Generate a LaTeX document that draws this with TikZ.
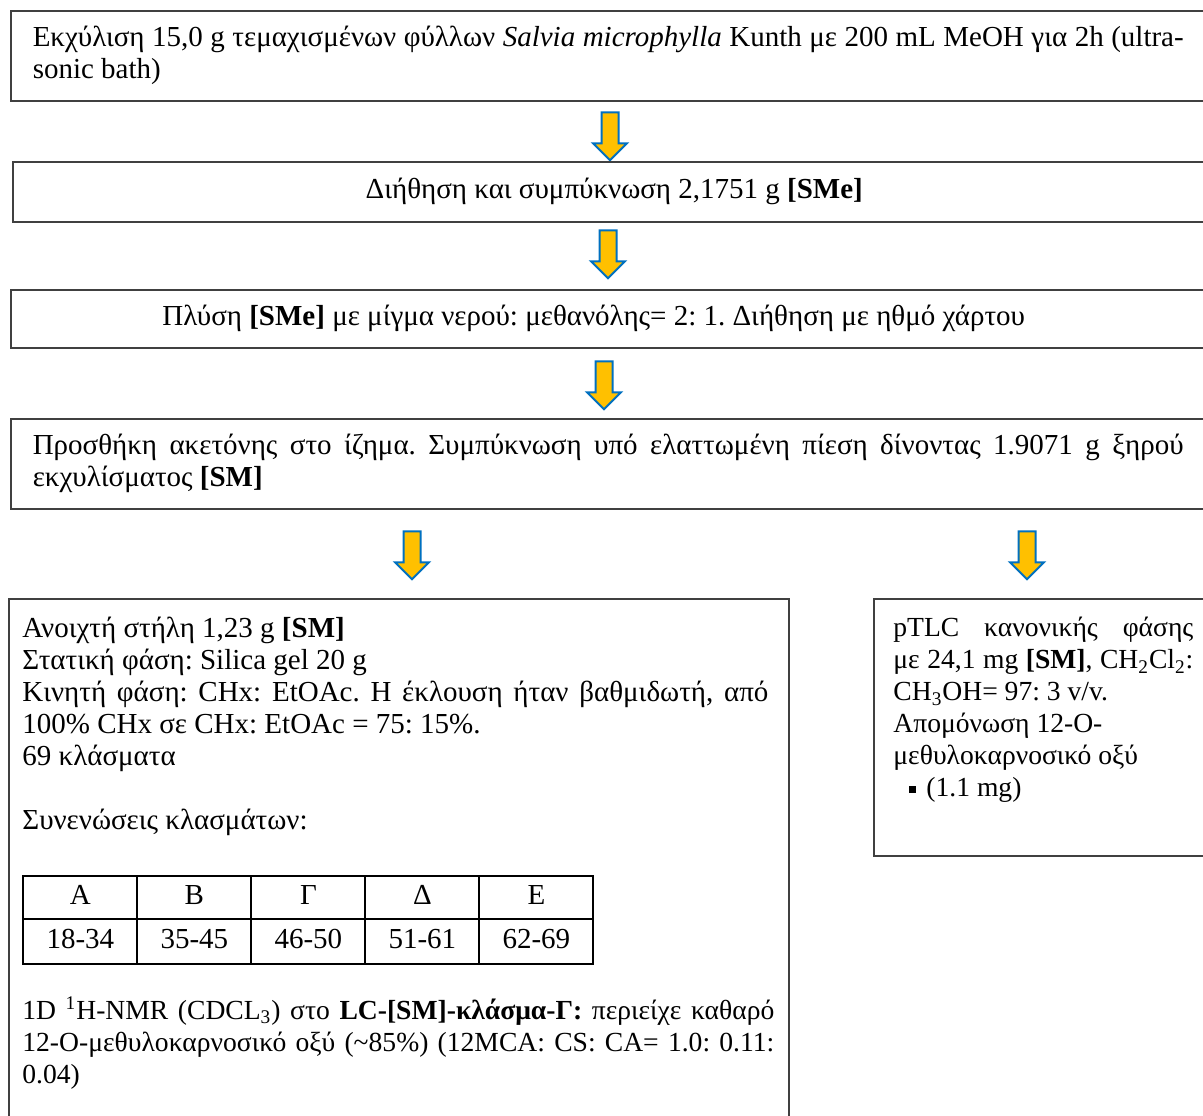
\documentclass[tikz,border=0pt]{standalone}
\usepackage{fontspec}
\setmainfont{Liberation Serif}
\usetikzlibrary{positioning,shapes.arrows,matrix}
\hyphenpenalty=10000
\exhyphenpenalty=10000
\frenchspacing
\newcommand{\looserspaces}{\spaceskip=.25em plus .3em minus .12em\relax}
\definecolor{arrowfill}{HTML}{FFC000}
\definecolor{arrowline}{HTML}{0070C0}
\definecolor{boxline}{HTML}{404040}
\tikzset{
  every node/.style={
    font=\fontsize{14.5pt}{16pt}\selectfont
  },
  stepbox/.style={draw=boxline, line width=0.75pt, anchor=north west, inner sep=0pt},
  textblock/.style={anchor=north west, inner sep=0pt, align=justify},
  smalltext/.style={font=\fontsize{13.8pt}{16pt}\selectfont\looserspaces},
  downarrow/.style={single arrow, rotate=-90, fill=arrowfill, draw=arrowline,
    line width=1pt, inner sep=0pt, inner ysep=3.75pt, minimum height=24pt,
    single arrow head extend=4.25pt},
  cell/.style={draw=black, line width=1pt, minimum width=57pt, inner sep=0pt,
    anchor=center, text height=10pt, text depth=3pt}
}

\begin{document}
\begin{tikzpicture}[x=0.5pt, y=-0.5pt]
        \useasboundingbox (0,0) rectangle (1203,1115);
        \clip (0,0) rectangle (1203,1115);

        \node [stepbox, text width=575.5pt, inner xsep=11pt, minimum height=45pt, align=justify] (extract) at (10,10)
          {Εκχύλιση 15,0 g τεμαχισμένων φύλλων \textit{Salvia microphylla} Kunth με 200 mL MeOH για 2h (ultra-\linebreak sonic bath)};
        \node [downarrow] (A1) at (610,132) {};

        \node [stepbox, minimum width=601.5pt, minimum height=30pt] (filter) at (12,161)
          {Διήθηση και συμπύκνωση 2,1751 g \textbf{[SMe]}};
        \node [downarrow] (A2) at (608,250) {};

        \node [stepbox, minimum width=600pt, minimum height=29pt] (wash) at (10,289)
          {Πλύση \textbf{[SMe]} με μίγμα νερού: μεθανόλης= 2: 1. Διήθηση με ηθμό χάρτου\kern17pt};
        \node [downarrow] (A3) at (604,381) {};

        \node [stepbox, text width=575.5pt, inner xsep=11pt, minimum height=45pt, align=justify] (acetone) at (10,418)
          {Προσθήκη ακετόνης στο ίζημα. Συμπύκνωση υπό ελαττωμένη πίεση δίνοντας 1.9071 g ξηρού \linebreak εκχυλίσματος \textbf{[SM]}};
        \node [downarrow] (A4) at (412,551) {};
        \node [downarrow] (A5) at (1027,551) {};

        % open column branch
        \node [stepbox, minimum width=390pt, minimum height=270pt] (column) at (8,598) {};
        \node [textblock, text width=373pt, below right=9.5pt and 7pt of column.north west] (columnText)
          {Ανοιχτή στήλη 1,23 g \textbf{[SM]}\\
           Στατική φάση: Silica gel 20 g\\
           Κινητή φάση: CHx: EtOAc. Η έκλουση ήταν βαθμιδωτή, από \linebreak 100\% CHx σε CHx: EtOAc = 75: 15\%.\\
           69 κλάσματα\\[16pt]
           Συνενώσεις κλασμάτων:};
        \matrix (fractions) [matrix of nodes, anchor=north west, inner sep=0pt, column sep=-1pt, row sep=-1pt, nodes={cell},
            row 1/.style={nodes={minimum height=21.5pt}}, row 2/.style={nodes={minimum height=22.5pt}}] at (22,875)
          {Α & Β & Γ & Δ & Ε \\
           18-34 & 35-45 & 46-50 & 51-61 & 62-69 \\};
        \node [textblock, smalltext, text width=376pt] (nmrText) at (22,996)
          {1D \textsuperscript{1}H-NMR (CDCL\textsubscript{3}) στο \textbf{LC-[SM]-κλάσμα-Γ:} περιείχε καθαρό \linebreak 12-O-μεθυλοκαρνοσικό οξύ (\textasciitilde85\%) (12MCA: CS: CA= 1.0: 0.11: \linebreak 0.04)};

        % pTLC branch
        \node [stepbox, minimum width=170pt, minimum height=128.5pt] (tlc) at (873,598) {};
        \node [textblock, smalltext, text width=150pt, below right=9.5pt and 10pt of tlc.north west] (tlcText)
          {pTLC κανονικής φάσης \linebreak με 24,1 mg \textbf{[SM]}, CH\textsubscript{2}Cl\textsubscript{2}: \linebreak CH\textsubscript{3}OH= 97: 3 v/v.\\
           Απομόνωση 12-O-\\
           μεθυλοκαρνοσικό οξύ\\
           \hspace*{8pt}\rule[2pt]{3.5pt}{3.5pt}\hspace{5pt}(1.1 mg)};
      \end{tikzpicture}
\end{document}
